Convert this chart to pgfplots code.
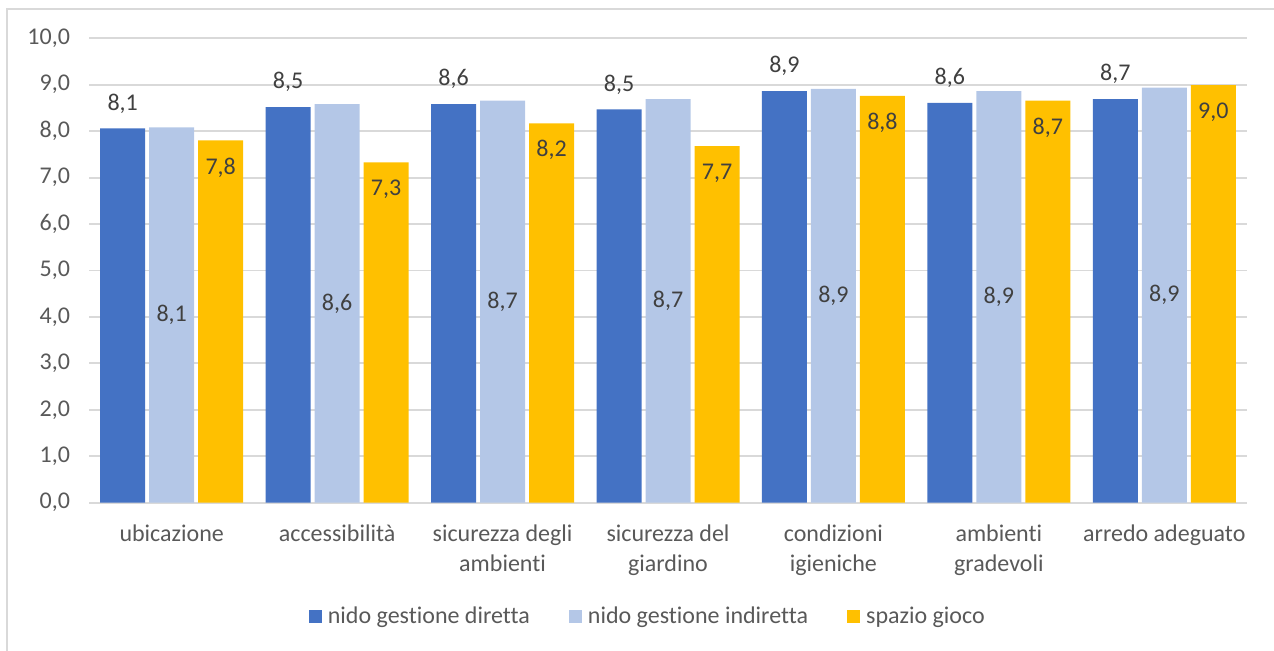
\documentclass[border=0pt]{standalone}
\usepackage{fontspec}
\setmainfont[Ligatures=NoCommon]{Carlito}
\usepackage{pgfplots}
\pgfplotsset{compat=1.18}
\definecolor{cBlue}{HTML}{4472C4}
\definecolor{cLight}{HTML}{B4C7E7}
\definecolor{cYel}{HTML}{FFC000}
\definecolor{cGrid}{HTML}{D9D9D9}
\definecolor{cText}{HTML}{595959}
\definecolor{cLab}{HTML}{404040}
\begin{document}
\begin{tikzpicture}
\path[use as bounding box] (0,0) rectangle (637pt,325pt);
\draw[cGrid, line width=1pt] (3.5pt,-2pt) -- (3.5pt,320.5pt) -- (640pt,320.5pt);
\begin{axis}[
  at={(44.5pt,73.65pt)}, anchor=south west,
  scale only axis, width=579pt, height=232.2pt,
  ybar=2pt, bar width=22.5pt,
  xmin=-0.5, xmax=6.5, ymin=0, ymax=10,
  xtick={0,1,2,3,4,5,6},
  xticklabels={ubicazione, accessibilità, {sicurezza degli\\ambienti}, {sicurezza del\\giardino}, {condizioni\\igieniche}, {ambienti\\gradevoli}, arredo adeguato},
  ytick={0,1,2,3,4,5,6,7,8,9,10},
  ymajorgrids, grid style={cGrid, line width=0.9pt},
  axis line style={draw=none},
  major tick length=0pt,
  tick label style={font=\fontsize{12}{15}\selectfont, text=cText},
  xticklabel style={align=center, anchor=north, yshift=-7.5pt},
  yticklabel style={anchor=east, xshift=-6pt},
  /pgf/number format/fixed,
  /pgf/number format/fixed zerofill,
  /pgf/number format/precision=1,
  /pgf/number format/use comma,
  /pgf/number format/assume math mode=true,
  nodes near coords,
  legend style={at={(axis description cs:0.483,-0.246)}, anchor=center, draw=none, fill=none,
    font=\fontsize{12}{14}\selectfont, text=cText,
    nodes={inner sep=1.5pt}},
  legend columns=3,
  legend cell align=left,
]
\addplot[fill=cBlue, draw=none,
  nodes near coords style={anchor=center, yshift=12.5pt, font=\fontsize{12}{14}\selectfont, text=cLab},
  legend image code/.code={\fill[cBlue] (0pt,-3.25pt) rectangle (6.5pt,3.25pt); \path (8pt,0pt);}]
  coordinates {(0,8.06) (1,8.52) (2,8.58) (3,8.47) (4,8.86) (5,8.61) (6,8.69)};
\addplot[fill=cLight, draw=none,
  visualization depends on={rawy \as \rawy},
  nodes near coords style={anchor=center, yshift={-\rawy*11.61pt}, font=\fontsize{12}{14}\selectfont, text=cLab},
  legend image code/.code={\fill[cLight] (0pt,-3.25pt) rectangle (6.5pt,3.25pt); \path (8pt,0pt);}]
  coordinates {(0,8.08) (1,8.58) (2,8.66) (3,8.69) (4,8.91) (5,8.86) (6,8.94)};
\addplot[fill=cYel, draw=none,
  nodes near coords style={anchor=center, yshift=-13.5pt, font=\fontsize{12}{14}\selectfont, text=cLab},
  legend image code/.code={\fill[cYel] (0pt,-3.25pt) rectangle (6.5pt,3.25pt); \path (8pt,0pt);}]
  coordinates {(0,7.80) (1,7.33) (2,8.17) (3,7.68) (4,8.76) (5,8.66) (6,8.99)};
\legend{nido gestione diretta\kern18pt, nido gestione indiretta\kern18pt, spazio gioco}
\end{axis}
\end{tikzpicture}
\end{document}
